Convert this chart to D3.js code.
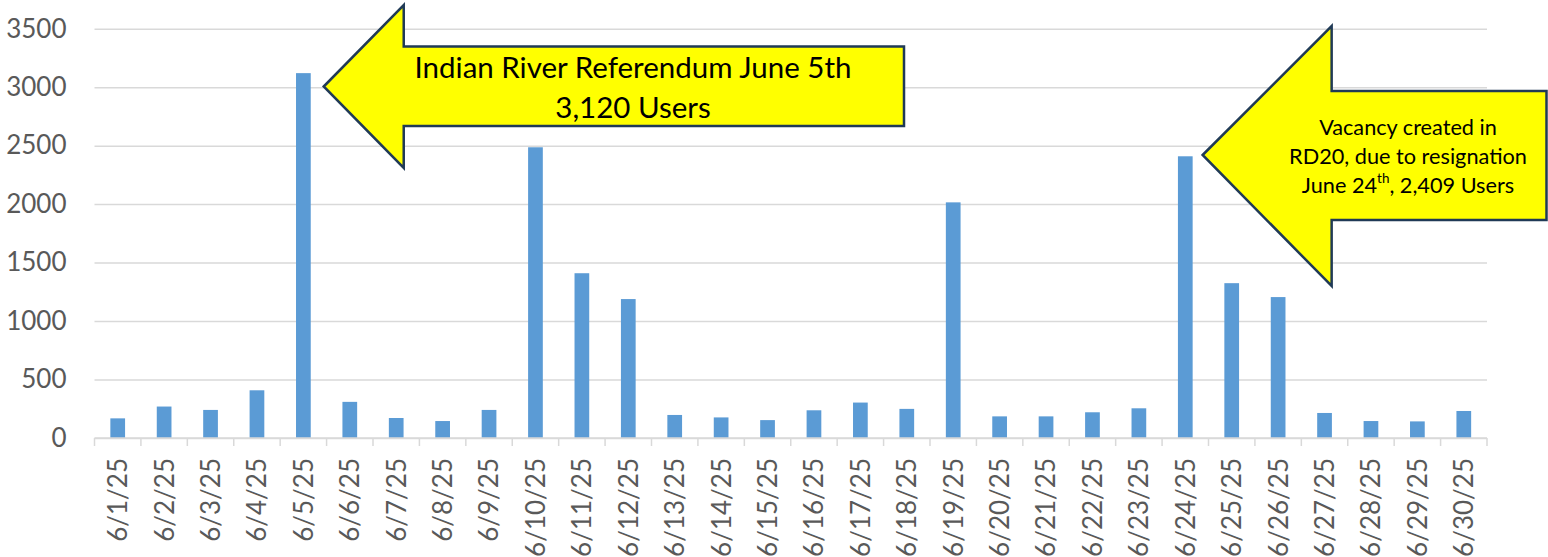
<!DOCTYPE html>
<html>
<head>
<meta charset="utf-8">
<script src="https://cdn.jsdelivr.net/npm/d3@7"></script>
<style>
	body { margin: 0; background: #fff; }
	svg { display: block; font-family: Lato, 'Open Sans', sans-serif; }
	.axis text { fill: #595959; }
</style>
</head>
<body>
<div id="chart"></div>
<script>
const dates = [
	'6/1/25', '6/2/25', '6/3/25', '6/4/25', '6/5/25', '6/6/25', '6/7/25', '6/8/25', '6/9/25', '6/10/25',
	'6/11/25', '6/12/25', '6/13/25', '6/14/25', '6/15/25', '6/16/25', '6/17/25', '6/18/25', '6/19/25', '6/20/25',
	'6/21/25', '6/22/25', '6/23/25', '6/24/25', '6/25/25', '6/26/25', '6/27/25', '6/28/25', '6/29/25', '6/30/25',
];
const users = [
	168, 269, 240, 408, 3120, 309, 171, 145, 240, 2486,
	1409, 1188, 197, 176, 153, 237, 303, 249, 2015, 185,
	185, 220, 254, 2409, 1324, 1205, 214, 145, 142, 231,
];
const yTicks = [0, 500, 1000, 1500, 2000, 2500, 3000, 3500];

const annotations = [
	{ date: '6/5/25', lines: ['Indian River Referendum June 5th', '3,120 Users'] },
	{ date: '6/24/25', lines: ['Vacancy created in', 'RD20, due to resignation', 'June 24|th|, 2,409 Users'] },
];

const width = 1548;
const height = 557;
const margin = { top: 28.7, right: 61, bottom: 119, left: 94.5 };
const innerW = width - margin.left - margin.right;
const innerH = height - margin.top - margin.bottom;
const font = "Lato, 'Open Sans', sans-serif";

const svg = d3.select('#chart').append('svg')
	.attr('width', width)
	.attr('height', height);

const plot = svg.append('g')
	.attr('transform', `translate(${margin.left},${margin.top})`);

const x = d3.scaleBand()
	.domain(dates)
	.range([0, innerW])
	.paddingInner(0.683)
	.paddingOuter(0.683 / 2);

const y = d3.scaleLinear()
	.domain([0, 3500])
	.range([innerH, 0]);

// gridlines + y labels
const yAxis = d3.axisLeft(y)
	.tickValues(yTicks)
	.tickSize(-innerW)
	.tickPadding(28)
	.tickFormat(d3.format('d'));

plot.append('g')
	.attr('class', 'y axis')
	.call(yAxis)
	.attr('font-family', font)
	.attr('font-size', 26)
	.call((g) => g.select('.domain').remove())
	.call((g) => g.selectAll('line').attr('stroke', '#d9d9d9').attr('stroke-width', 1.5));

// bars
plot.selectAll('.bar')
	.data(dates.map((d, i) => [d, users[i]]))
	.enter()
	.append('rect')
	.attr('class', 'bar')
	.attr('x', (d) => x(d[0]))
	.attr('y', (d) => y(d[1]))
	.attr('width', x.bandwidth())
	.attr('height', (d) => innerH - y(d[1]))
	.attr('fill', '#5b9bd5');

// x axis: labels at centres, ticks on category boundaries
const xAxis = d3.axisBottom(x).tickSize(0).tickPadding(0);

const xg = plot.append('g')
	.attr('class', 'x axis')
	.attr('transform', `translate(0,${innerH})`)
	.call(xAxis)
	.attr('font-family', font)
	.attr('font-size', 26);

xg.select('.domain').remove();
xg.selectAll('text')
	.attr('text-anchor', 'end')
	.attr('transform', 'rotate(-90)')
	.attr('x', -20)
	.attr('y', 0)
	.attr('dy', '0.36em');

xg.append('line')
	.attr('x1', 0)
	.attr('x2', innerW)
	.attr('stroke', '#d9d9d9')
	.attr('stroke-width', 1.5);

xg.selectAll('.bound')
	.data(d3.range(dates.length + 1))
	.enter()
	.append('line')
	.attr('class', 'bound')
	.attr('x1', (i) => i * x.step())
	.attr('x2', (i) => i * x.step())
	.attr('y1', 0)
	.attr('y2', 8)
	.attr('stroke', '#d9d9d9')
	.attr('stroke-width', 1.5);

// callout arrows, placed relative to the bar they point at
const arrowShapes = [
	{ gap: 13, tipY: 86.5, head: 80, headTop: 5, headBot: 168, shaftTop: 46.5, shaftBot: 126, right: 904, size: 29.5, lead: 40, textX: 633, base: 77.5 },
	{ gap: 10, tipY: 155, head: 129, headTop: 26, headBot: 286, shaftTop: 91, shaftBot: 220, right: 1546.5, size: 21.7, lead: 29, textX: 1408, base: 135 },
];

annotations.forEach((a, i) => {
	const s = arrowShapes[i];
	const tipX = margin.left + x(a.date) + x.bandwidth() + s.gap;
	const hx = tipX + s.head;
	const pts = [
		[tipX, s.tipY], [hx, s.headTop], [hx, s.shaftTop], [s.right, s.shaftTop],
		[s.right, s.shaftBot], [hx, s.shaftBot], [hx, s.headBot],
	];

	svg.append('polygon')
		.attr('points', pts.map((p) => p.join(',')).join(' '))
		.attr('fill', '#ffff00')
		.attr('stroke', '#203a56')
		.attr('stroke-width', 2.5)
		.attr('stroke-linejoin', 'miter');

	const t = svg.append('text')
		.attr('text-anchor', 'middle')
		.attr('font-size', s.size)
		.attr('fill', '#000');

	a.lines.forEach((line, j) => {
		const parts = line.split('|');
		const row = t.append('tspan')
			.attr('x', s.textX)
			.attr('y', s.base + j * s.lead);
		parts.forEach((p, k) => {
			const sp = row.append('tspan').text(p);
			if (k % 2 === 1) {
				sp.attr('font-size', s.size * 0.62).attr('baseline-shift', '0.75em');
			}
		});
	});
});
</script>
</body>
</html>
